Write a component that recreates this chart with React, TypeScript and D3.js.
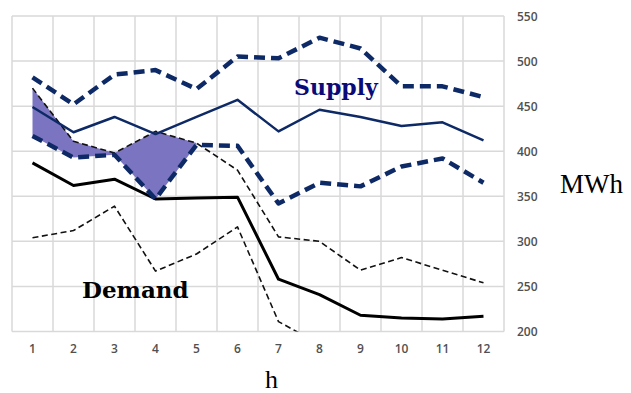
import React, { useEffect, useRef } from 'react';
import * as d3 from 'd3';

const hours = [1, 2, 3, 4, 5, 6, 7, 8, 9, 10, 11, 12];
const yTicks = [200, 250, 300, 350, 400, 450, 500, 550];

const supplyMid = [449, 421, 438, 419, 438, 457, 422, 446, 438, 428, 432, 412];
const supplyHigh = [482, 452, 485, 490, 469, 505, 503, 526, 514, 472, 472, 460];
const supplyLow = [417, 393, 396, 347, 407, 406, 342, 365, 361, 383, 392, 365];

const demandMid = [387, 362, 369, 347, 348, 349, 258, 241, 218, 215, 214, 217];
const demandHigh = [470, 411, 398, 422, 409, 379, 305, 300, 268, 282, 268, 254];
const demandLow = [304, 312, 339, 267, 286, 316, 211, 186, 186, 186, 186, 186];

// hours where demand upper bound exceeds supply lower bound
const shadedHours = [1, 2, 3, 4, 5];

export default function App() {
  const ref = useRef<SVGSVGElement>(null);

  useEffect(() => {
    const svg = d3.select(ref.current);
    svg.html('');

    const left = 12, right = 504, top = 16, bottom = 331.5;

    const x = d3.scaleBand<number>().domain(hours).range([left, right]);
    const y = d3.scaleLinear().domain([200, 550]).range([bottom, top]);
    const cx = (h: number) => (x(h) as number) + x.bandwidth() / 2;

    svg.append('defs').append('clipPath').attr('id', 'plotclip')
      .append('rect').attr('x', left).attr('y', top)
      .attr('width', right - left).attr('height', bottom - top);

    const grid = svg.append('g');
    grid.selectAll('line.h').data(yTicks).enter().append('line')
      .attr('x1', left).attr('x2', right)
      .attr('y1', d => y(d)).attr('y2', d => y(d))
      .attr('stroke', '#d9d9d9').attr('stroke-width', 1.5);
    const vx = hours.map(h => x(h) as number).concat([right]);
    grid.selectAll('line.v').data(vx).enter().append('line')
      .attr('x1', d => d).attr('x2', d => d)
      .attr('y1', top).attr('y2', bottom)
      .attr('stroke', '#d9d9d9').attr('stroke-width', 1.5);

    const plot = svg.append('g').attr('clip-path', 'url(#plotclip)');

    const area = d3.area<number>()
      .x(h => cx(h))
      .y0(h => y(supplyLow[h - 1]))
      .y1(h => y(Math.max(demandHigh[h - 1], supplyLow[h - 1])));
    plot.append('path').datum(shadedHours).attr('d', area)
      .attr('fill', '#7b74c0');

    const line = (vals: number[]) =>
      d3.line<number>().x(h => cx(h)).y(h => y(vals[h - 1]))(hours);

    const series = [
      { v: demandHigh, c: '#111', w: 1.6, dash: '6,3.5' },
      { v: demandLow, c: '#111', w: 1.6, dash: '6,3.5' },
      { v: demandMid, c: '#000', w: 3, dash: null },
      { v: supplyMid, c: '#0e2a66', w: 2.5, dash: null },
      { v: supplyHigh, c: '#0e2a66', w: 4.5, dash: '11,6' },
      { v: supplyLow, c: '#0e2a66', w: 4.5, dash: '11,6' },
    ];
    series.forEach(s => {
      plot.append('path').attr('d', line(s.v) as string)
        .attr('fill', 'none').attr('stroke', s.c)
        .attr('stroke-width', s.w)
        .attr('stroke-linejoin', 'round')
        .attr('stroke-dasharray', s.dash);
    });

    const tickFont = "'Open Sans', sans-serif";
    svg.append('g').selectAll('text').data(yTicks).enter().append('text')
      .attr('x', 517).attr('y', d => y(d) + 4.5)
      .attr('font-family', tickFont).attr('font-size', 12).attr('font-weight', 600)
      .attr('fill', '#505050').text(d => d);
    svg.append('g').selectAll('text').data(hours).enter().append('text')
      .attr('x', h => cx(h)).attr('y', 353).attr('text-anchor', 'middle')
      .attr('font-family', tickFont).attr('font-size', 12).attr('font-weight', 600)
      .attr('fill', '#505050').text(d => d);

    const serif = "'Liberation Serif', 'DejaVu Serif', serif";
    const boldSerif = "'DejaVu Serif', serif";
    svg.append('text').attr('x', 560).attr('y', 193)
      .attr('font-family', serif).attr('font-size', 27).attr('fill', '#000')
      .text('MWh');
    svg.append('text').attr('x', 265).attr('y', 388)
      .attr('font-family', serif).attr('font-size', 26).attr('fill', '#000')
      .text('h');
    svg.append('text').attr('x', 294).attr('y', 95)
      .attr('font-family', boldSerif).attr('font-size', 22).attr('font-weight', 700)
      .attr('fill', '#0a0a78').text('Supply');
    svg.append('text').attr('x', 82).attr('y', 298)
      .attr('font-family', boldSerif).attr('font-size', 23).attr('font-weight', 700)
      .attr('fill', '#000').text('Demand');
  }, []);

  return (
    <svg ref={ref} width={631} height={393}
      style={{ position: 'absolute', left: 0, top: 0, background: '#fff' }} />
  );
}
